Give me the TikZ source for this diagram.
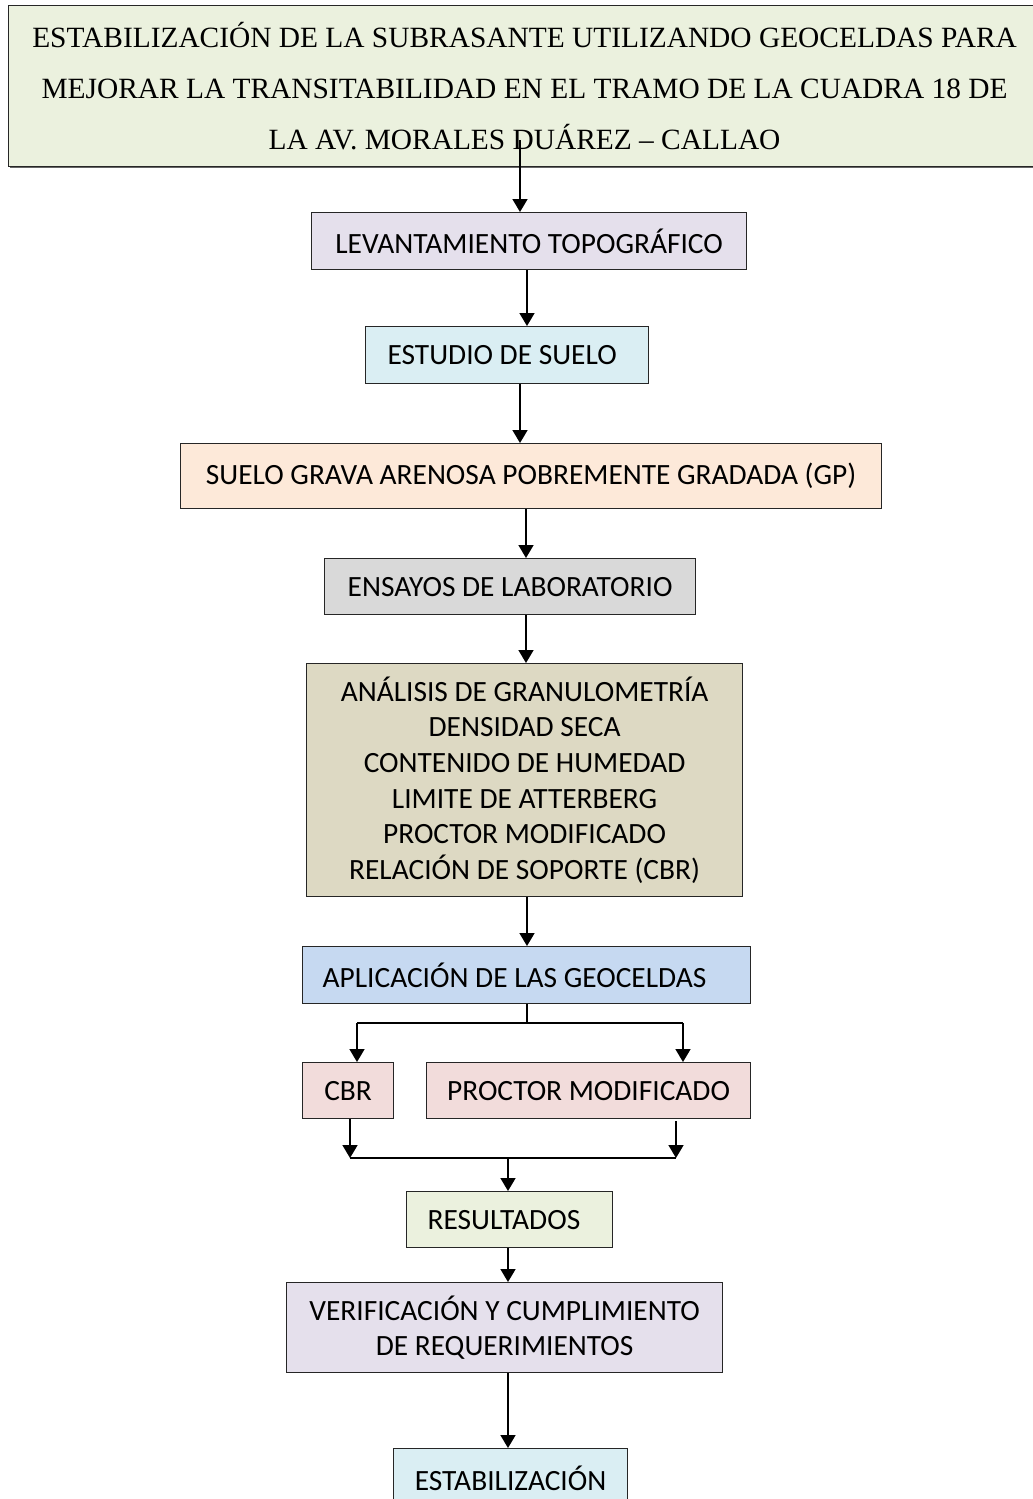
\documentclass[tikz,border=0pt]{standalone}
\usepackage{fontspec}
\setmainfont{Carlito}
\newfontfamily\titlefont{Liberation Serif}
\usetikzlibrary{arrows.meta}
\definecolor{cTitle}{HTML}{EBF1DE}
\definecolor{cLav}{HTML}{E5E0EC}
\definecolor{cAqua}{HTML}{DAEEF3}
\definecolor{cOrange}{HTML}{FDE9D9}
\definecolor{cGray}{HTML}{D9D9D9}
\definecolor{cTan}{HTML}{DDD9C3}
\definecolor{cBlue}{HTML}{C6D9F1}
\definecolor{cRed}{HTML}{F2DCDB}
\tikzset{
  box/.style={draw=black!85, line width=1.2pt, anchor=north west, inner sep=0pt,
    font=\fontsize{29.4}{35.6}\selectfont, text=black},
  lbox/.style={box, align=left, execute at begin node={\spaceskip=0pt\xspaceskip=0pt}},
  arr/.style={line width=1.7pt, -{Triangle[length=13pt,width=15pt]}},
  ln/.style={line width=1.7pt}
}
\begin{document}
\begin{tikzpicture}[x=1pt,y=-1pt]
\useasboundingbox (0,0) rectangle (1033,1499);
\begin{scope}
\clip (0,0) rectangle (1033,1499);
% title
\fill[black!60] (10,8) rectangle (1042,168);
\node[box, fill=cTitle, minimum width=1032pt, minimum height=161pt,
  font=\titlefont\fontsize{29.4}{51}\selectfont, align=center] (title) at (8,5)
  {ESTABILIZACIÓN DE LA SUBRASANTE UTILIZANDO GEOCELDAS PARA\\
   MEJORAR LA TRANSITABILIDAD EN EL TRAMO DE LA CUADRA 18 DE\\
   LA AV. MORALES DUÁREZ – CALLAO};
\coordinate (tstart) at (520,140);

\node[box, fill=cLav, minimum width=435pt, minimum height=57pt] (lev) at (311,212)
  {LEVANTAMIENTO TOPOGRÁFICO};
\node[lbox, fill=cAqua, minimum height=57pt, inner xsep=22pt, text width=239pt] (est) at (365,326)
  {ESTUDIO DE SUELO};
\node[box, fill=cOrange, minimum width=701pt, minimum height=65pt] (suelo) at (180,443)
  {SUELO GRAVA ARENOSA POBREMENTE GRADADA (GP)};
\node[box, fill=cGray, minimum width=371pt, minimum height=56pt] (ens) at (324,558)
  {ENSAYOS DE LABORATORIO};
\node[box, fill=cTan, minimum width=436pt, minimum height=233pt, align=center] (ana) at (306,663)
  {ANÁLISIS DE GRANULOMETRÍA\\DENSIDAD SECA\\CONTENIDO DE HUMEDAD\\LIMITE DE ATTERBERG\\PROCTOR MODIFICADO\\RELACIÓN DE SOPORTE (CBR)};
\node[lbox, fill=cBlue, minimum height=57pt, inner xsep=20pt, text width=408pt] (apl) at (302,946)
  {APLICACIÓN DE LAS GEOCELDAS};
\node[box, fill=cRed, minimum width=91pt, minimum height=56pt] (cbr) at (302,1062) {CBR};
\node[box, fill=cRed, minimum width=324pt, minimum height=56pt] (proc) at (426,1062) {PROCTOR MODIFICADO};
\node[lbox, fill=cTitle, minimum height=56pt, inner xsep=21pt, text width=164pt] (res) at (406,1191)
  {RESULTADOS};
\node[box, fill=cLav, minimum width=436pt, minimum height=90pt, align=center] (ver) at (286,1282)
  {VERIFICACIÓN Y CUMPLIMIENTO\\DE REQUERIMIENTOS};
\node[box, fill=cAqua, minimum width=234pt, minimum height=60pt] (estab) at (393,1448)
  {ESTABILIZACIÓN};

% connectors
\draw[arr] (tstart) -- (520,0 |- lev.north);
\draw[arr] (527,0 |- lev.south) -- (527,0 |- est.north);
\draw[arr] (520,0 |- est.south) -- (520,0 |- suelo.north);
\draw[arr] (526,0 |- suelo.south) -- (526,0 |- ens.north);
\draw[arr] (526,0 |- ens.south) -- (526,0 |- ana.north);
\draw[arr] (527,0 |- ana.south) -- (527,0 |- apl.north);
\coordinate (split) at (527,1023);
\draw[ln] (527,0 |- apl.south) -- (split);
\draw[ln] (357,1023) -- (683,1023);
\draw[arr] (357,1023) -- (357,0 |- cbr.north);
\draw[arr] (683,1023) -- (683,0 |- proc.north);
\coordinate (merge) at (508,1158);
\draw[arr] (350,0 |- cbr.south) -- (350,1158);
\draw[arr] (676,1121) -- (676,1158);
\draw[ln] (350,1158) -- (676,1158);
\draw[arr] (merge) -- (508,0 |- res.north);
\draw[arr] (508,0 |- res.south) -- (508,0 |- ver.north);
\draw[arr] (508,0 |- ver.south) -- (508,0 |- estab.north);
\end{scope}
\end{tikzpicture}
\end{document}
